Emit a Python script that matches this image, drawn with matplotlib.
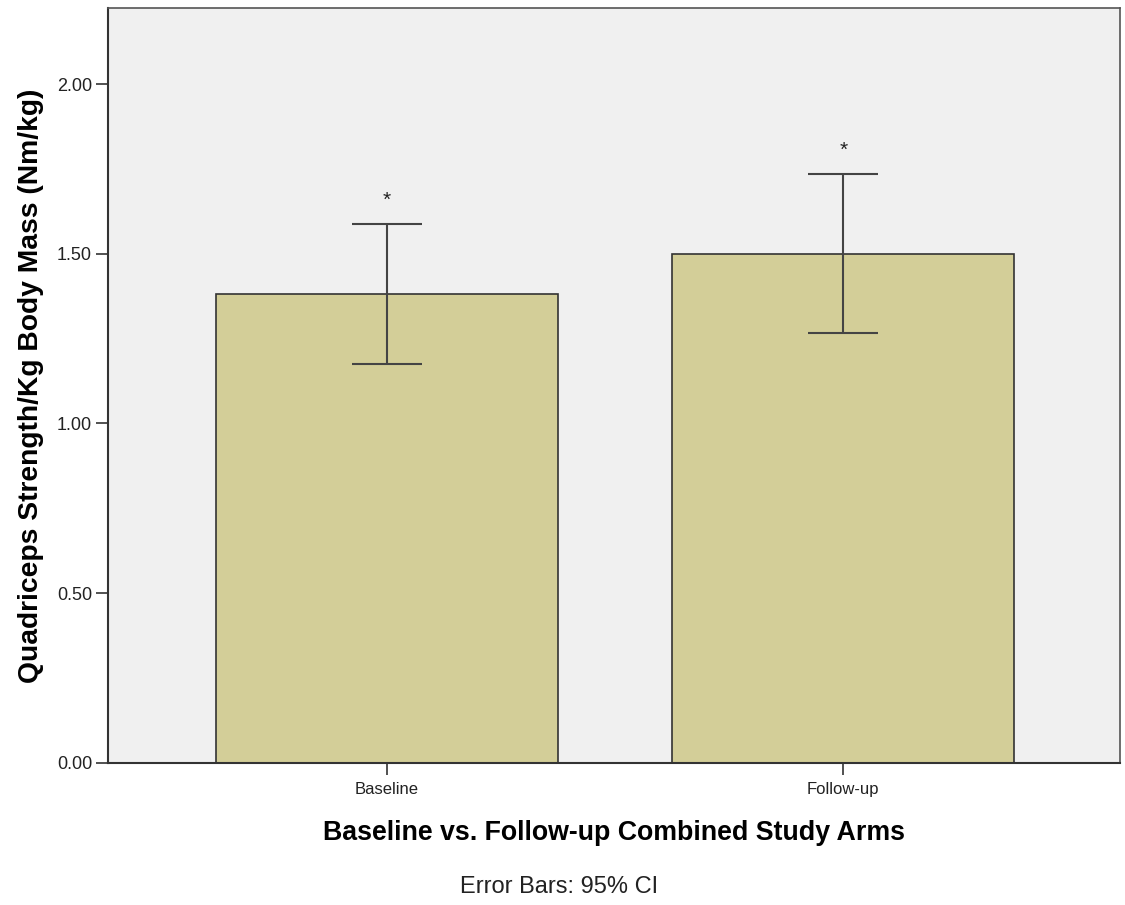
import matplotlib
matplotlib.use("Agg")
import matplotlib.pyplot as plt

# Data
groups = ["Baseline", "Follow-up"]
means = [1.38, 1.50]
ci_low = [1.175, 1.267]
ci_high = [1.588, 1.735]
marks = ["*", "*"]

plt.rcParams['font.family'] = ['Liberation Sans', 'DejaVu Sans']

fig = plt.figure(figsize=(11.25, 9.05), dpi=100)
ax = fig.add_axes([0.096, 0.157, 0.8996, 0.8342])
ax.set_facecolor('#F0F0F0')

x = list(range(len(groups)))
yerr = [[m - lo for m, lo in zip(means, ci_low)],
        [hi - m for m, hi in zip(means, ci_high)]]

ax.bar(x, means, width=0.75, color='#D3CE98', edgecolor='#333333', linewidth=1.2, zorder=2)
ax.errorbar(x, means, yerr=yerr, fmt='none', ecolor='#444444', elinewidth=1.5,
            capsize=25, capthick=1.5, zorder=3)

# asterisks above the upper CI
for xi, hi, m in zip(x, ci_high, marks):
    ax.annotate(m, (xi, hi), xytext=(0, 10), textcoords='offset points',
                ha='center', va='bottom', fontsize=15, color='#222222')

ax.set_xlim(-0.612, 1.607)
ax.set_ylim(0, 2.224)
ax.set_yticks([0, 0.5, 1.0, 1.5, 2.0])
ax.set_yticklabels(["%.2f" % v for v in [0, 0.5, 1.0, 1.5, 2.0]])
ax.set_xticks(x)
ax.set_xticklabels(groups)
ax.tick_params(axis='both', direction='out', length=8.5, width=1.2, color='#333333',
               labelcolor='#222222', pad=3)
ax.tick_params(axis='y', labelsize=13)
ax.tick_params(axis='x', labelsize=12, pad=5)

for s in ['left', 'bottom']:
    ax.spines[s].set_color('#333333')
    ax.spines[s].set_linewidth(1.5)
for s in ['top', 'right']:
    ax.spines[s].set_color('#555555')
    ax.spines[s].set_linewidth(1.2)

ax.set_xlabel("Baseline vs. Follow-up Combined Study Arms", fontsize=19.3,
              fontweight='bold', labelpad=17)
ax.set_ylabel("Quadriceps Strength/Kg Body Mass (Nm/kg)", fontsize=20.3,
              fontweight='bold', labelpad=9)

fig.text(0.497, 0.02, "Error Bars: 95% CI", ha='center', va='center', fontsize=17,
         color='#222222')

fig.savefig("out.png", dpi=100)
